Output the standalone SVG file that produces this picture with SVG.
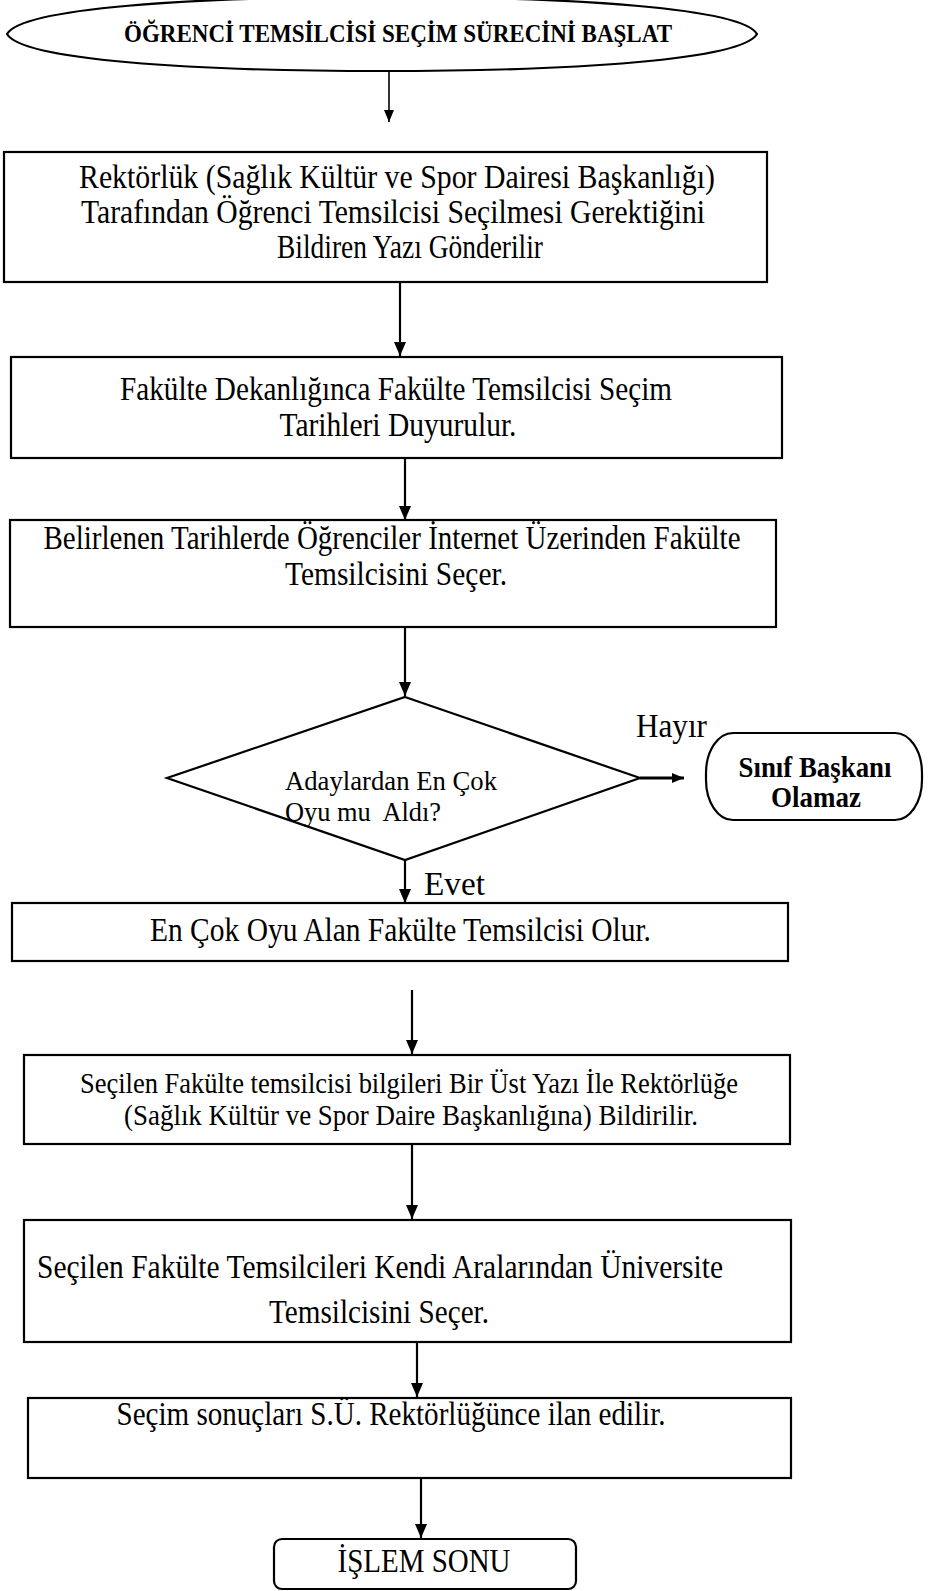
<svg xmlns="http://www.w3.org/2000/svg" width="940" height="1591" viewBox="0 0 940 1591">
<defs>
<marker id="arr" markerUnits="userSpaceOnUse" markerWidth="16" markerHeight="14" refX="14" refY="6" orient="auto">
<path d="M0,0 L14,6 L0,12 Z" fill="#000"/>
</marker>
<marker id="arrs" markerUnits="userSpaceOnUse" markerWidth="14" markerHeight="12" refX="12" refY="5" orient="auto">
<path d="M0,0 L12,5 L0,10 Z" fill="#000"/>
</marker>
<style>
.box{fill:#fff;stroke:#000;stroke-width:2.2}
.t{font-family:"Liberation Serif","Times New Roman",serif;font-size:33px;fill:#000}
.tc{text-anchor:middle}
.b{font-weight:bold}
.c{stroke:#000;stroke-width:2.2;fill:none;marker-end:url(#arr)}
.pre{white-space:pre}
</style>
</defs>
<rect width="940" height="1591" fill="#fff"/>

<g id="start">
<path class="box" d="M7,34 C22,8 190,-3 382,-3 C574,-3 742,8 757,34 C742,60 574,71 382,71 C190,71 22,60 7,34 Z"/>
<text class="t tc b" x="398" y="42" style="font-size:26px" textLength="548" lengthAdjust="spacingAndGlyphs">ÖĞRENCİ TEMSİLCİSİ SEÇİM SÜRECİNİ BAŞLAT</text>
</g>

<g id="n1">
<rect class="box" x="4" y="152" width="763" height="130"/>
<text class="t tc" x="397" y="188" textLength="636" lengthAdjust="spacingAndGlyphs">Rektörlük (Sağlık Kültür ve Spor Dairesi Başkanlığı)</text>
<text class="t tc" x="393" y="223" textLength="624" lengthAdjust="spacingAndGlyphs">Tarafından Öğrenci Temsilcisi Seçilmesi Gerektiğini</text>
<text class="t tc" x="410" y="258" textLength="266" lengthAdjust="spacingAndGlyphs">Bildiren Yazı Gönderilir</text>
</g>

<g id="n2">
<rect class="box" x="11" y="357" width="771" height="101"/>
<text class="t tc" x="396" y="400" textLength="552" lengthAdjust="spacingAndGlyphs">Fakülte Dekanlığınca Fakülte Temsilcisi Seçim</text>
<text class="t tc" x="398" y="436" textLength="237" lengthAdjust="spacingAndGlyphs">Tarihleri Duyurulur.</text>
</g>

<g id="n3">
<rect class="box" x="10" y="520" width="766" height="107"/>
<text class="t tc" x="392" y="549" textLength="697" lengthAdjust="spacingAndGlyphs">Belirlenen Tarihlerde Öğrenciler İnternet Üzerinden Fakülte</text>
<text class="t tc" x="396" y="585" textLength="222" lengthAdjust="spacingAndGlyphs">Temsilcisini Seçer.</text>
</g>

<g id="decision">
<polygon class="box" points="405,697 640,778 405,860 167,778"/>
<text class="t" x="285" y="790" style="font-size:27px" textLength="212" lengthAdjust="spacingAndGlyphs">Adaylardan En Çok</text>
<text class="t pre" x="285" y="821" style="font-size:27px" textLength="156" lengthAdjust="spacingAndGlyphs">Oyu mu  Aldı?</text>
</g>

<g id="no">
<rect class="box" x="706" y="733" width="216" height="87" rx="27" ry="40"/>
<text class="t tc b" x="815" y="777" style="font-size:29px" textLength="153" lengthAdjust="spacingAndGlyphs">Sınıf Başkanı</text>
<text class="t tc b" x="816" y="807" style="font-size:29px" textLength="90" lengthAdjust="spacingAndGlyphs">Olamaz</text>
</g>

<g id="n4">
<rect class="box" x="12" y="903" width="776" height="58"/>
<text class="t" x="150" y="941" textLength="501" lengthAdjust="spacingAndGlyphs">En Çok Oyu Alan Fakülte Temsilcisi Olur.</text>
</g>

<g id="n5">
<rect class="box" x="24" y="1055" width="766" height="89"/>
<text class="t tc" x="409" y="1093" style="font-size:30px" textLength="658" lengthAdjust="spacingAndGlyphs">Seçilen Fakülte temsilcisi bilgileri Bir Üst Yazı İle Rektörlüğe</text>
<text class="t tc" x="411" y="1125" style="font-size:30px" textLength="574" lengthAdjust="spacingAndGlyphs">(Sağlık Kültür ve Spor Daire Başkanlığına) Bildirilir.</text>
</g>

<g id="n6">
<rect class="box" x="24" y="1220" width="767" height="122"/>
<text class="t tc" x="380" y="1278" textLength="686" lengthAdjust="spacingAndGlyphs">Seçilen Fakülte Temsilcileri Kendi Aralarından Üniversite</text>
<text class="t tc" x="379" y="1323" textLength="220" lengthAdjust="spacingAndGlyphs">Temsilcisini Seçer.</text>
</g>

<g id="n7">
<rect class="box" x="28" y="1398" width="763" height="80"/>
<text class="t tc" x="391" y="1425" textLength="549" lengthAdjust="spacingAndGlyphs">Seçim sonuçları S.Ü. Rektörlüğünce ilan edilir.</text>
</g>

<g id="end">
<rect class="box" x="274" y="1539" width="302" height="50" rx="8"/>
<text class="t tc" x="424" y="1572" textLength="173" lengthAdjust="spacingAndGlyphs">İŞLEM SONU</text>
</g>

<g id="labels">
<text class="t" x="636" y="737" style="font-size:34px" textLength="71" lengthAdjust="spacingAndGlyphs">Hayır</text>
<text class="t" x="424" y="895" style="font-size:34px" textLength="61" lengthAdjust="spacingAndGlyphs">Evet</text>
</g>

<g id="connectors">
<line class="c" x1="389" y1="72" x2="389" y2="122" style="stroke-width:1.6;marker-end:url(#arrs)"/>
<line class="c" x1="400" y1="282" x2="400" y2="356"/>
<line class="c" x1="405" y1="458" x2="405" y2="520"/>
<line class="c" x1="405" y1="627" x2="405" y2="696"/>
<line class="c" x1="640" y1="778" x2="684" y2="778" style="stroke-width:3;marker-end:url(#arrs)"/>
<line class="c" x1="405" y1="860" x2="405" y2="903"/>
<line class="c" x1="412" y1="990" x2="412" y2="1054"/>
<line class="c" x1="412" y1="1144" x2="412" y2="1219"/>
<line class="c" x1="417" y1="1342" x2="417" y2="1397"/>
<line class="c" x1="421" y1="1478" x2="421" y2="1538"/>
</g>
</svg>
